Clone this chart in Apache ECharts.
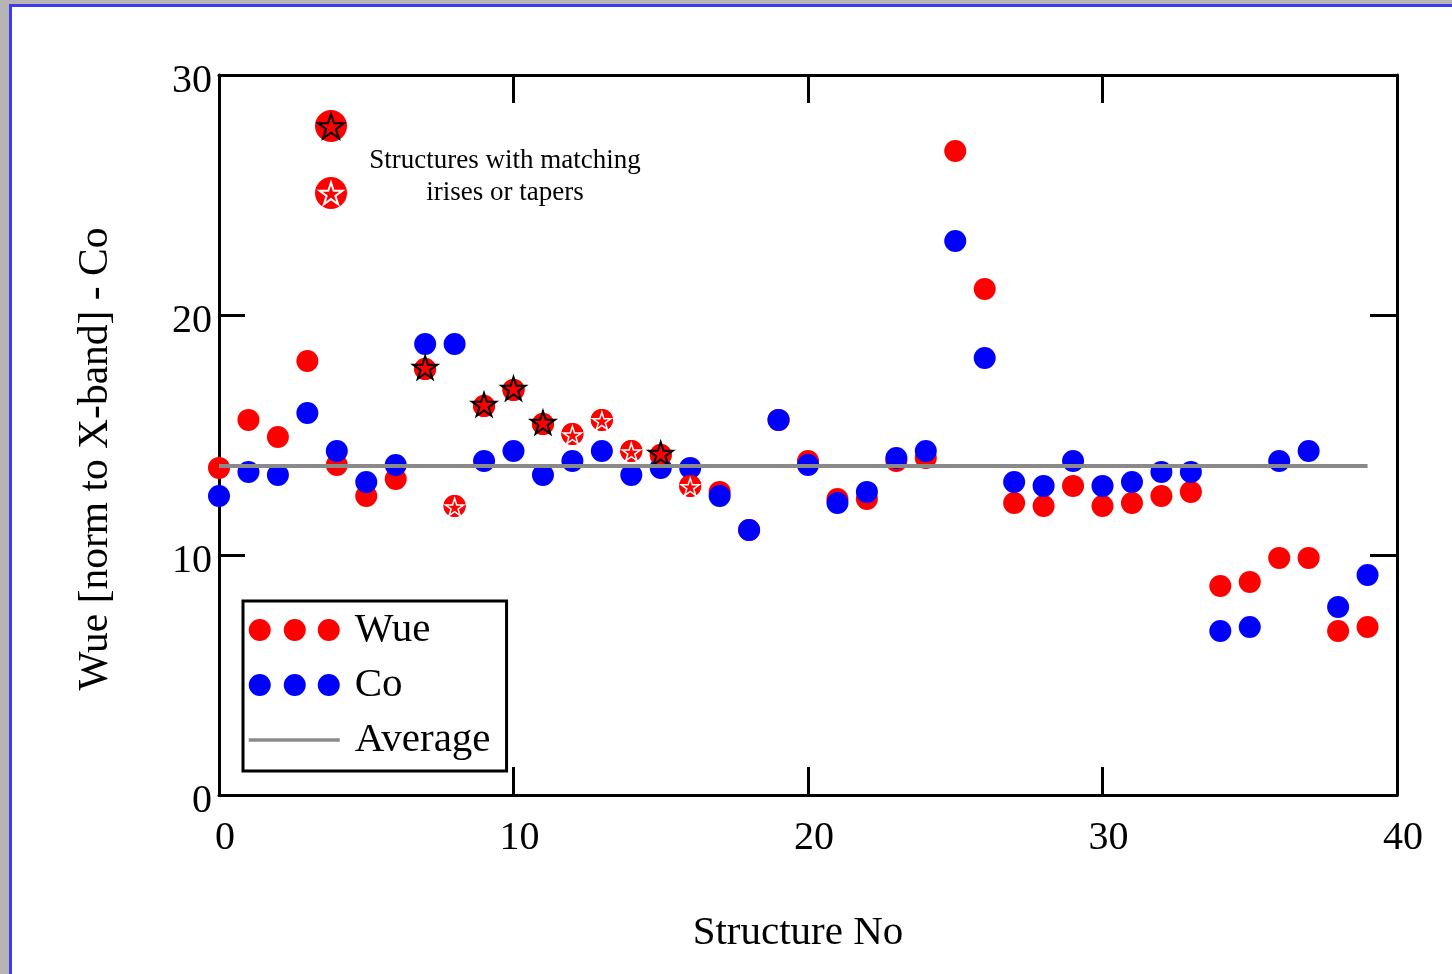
<!DOCTYPE html>
<html>
<head>
<meta charset="utf-8">
<title>Wue / Co per structure</title>
<script src="https://cdn.jsdelivr.net/npm/echarts@6/dist/echarts.min.js"></script>
<style>
  html, body { margin: 0; padding: 0; width: 100%; height: 100%; background: #b7b4b4; overflow: hidden; }
  #panel { position: absolute; left: 9px; top: 4px; right: 0; bottom: 0; background: #fff;
           border-left: 3px solid #3c3cec; border-top: 3px solid #3c3cec; }
  #chart { position: absolute; left: 0; top: 0; width: 1452px; height: 974px; }
</style>
</head>
<body>
<div id="panel"></div>
<div id="chart"></div>
<script>
// Structure numbers 0..39
const structureNo = Array.from({ length: 40 }, (_, i) => i);

// Wue [norm to X-band] per structure
const wueValues = [
  13.63, 15.63, 14.92, 18.08, 13.75, 12.46, 13.17, 17.75, 12.04, 16.21,
  16.88, 15.46, 15.04, 15.63, 14.33, 14.17, 12.88, 12.63, 11.04, 15.63,
  13.92, 12.33, 12.33, 13.92, 14.04, 26.83, 21.08, 12.17, 12.04, 12.88,
  12.04, 12.17, 12.46, 12.63, 8.71, 8.88, 9.88, 9.88, 6.83, 7.00
];

// Co per structure
const coValues = [
  12.46, 13.46, 13.33, 15.92, 14.33, 13.04, 13.75, 18.79, 18.79, 13.92,
  14.33, 13.33, 13.92, 14.33, 13.33, 13.63, 13.63, 12.46, 11.04, 15.63,
  13.75, 12.17, 12.63, 14.04, 14.33, 23.08, 18.21, 13.04, 12.88, 13.92,
  12.88, 13.04, 13.46, 13.46, 6.83, 7.00, 13.92, 14.33, 7.83, 9.17
];

// Structures with matching irises or tapers (two marker styles)
const blackStarStructures = [7, 9, 10, 11, 15];
const whiteStarStructures = [8, 12, 13, 14, 16];

// Overall average level
const averageValue = 13.71;

const xTicks = [0, 10, 20, 30, 40];
const yTicks = [0, 10, 20, 30];

// 5-point star vertices around (cx, cy)
function starPoints(cx, cy, R) {
  const r = R * 0.382, pts = [];
  for (let k = 0; k < 10; k++) {
    const rad = (k % 2 === 0 ? R : r);
    const a = (-90 + 36 * k) * Math.PI / 180;
    pts.push([cx + rad * Math.cos(a), cy + rad * Math.sin(a)]);
  }
  return pts;
}
function starPath(R) {
  return starPoints(R, R, R)
    .map((p, k) => (k === 0 ? 'M' : 'L') + p[0].toFixed(2) + ',' + p[1].toFixed(2))
    .join('') + 'Z';
}
const STAR = 'path://' + starPath(50);
const DOTS3 = 'path://M0,11A11,11,0,1,0,22,11A11,11,0,1,0,0,11Z' +
  'M35,11A11,11,0,1,0,57,11A11,11,0,1,0,35,11Z' +
  'M69,11A11,11,0,1,0,91,11A11,11,0,1,0,69,11Z';

const FONT = '"Liberation Serif", "Times New Roman", serif';
const RED = '#ff0000', BLUE = '#0000ff', GREY = '#8a8a8a';

const pairs = vals => structureNo.map(i => [i, vals[i]]);
const pick = idx => idx.map(i => [i, wueValues[i]]);

const chart = echarts.init(document.getElementById('chart'), null, { renderer: 'canvas' });

const axisLine = { show: true, onZero: false, lineStyle: { color: '#000', width: 3 } };

chart.setOption({
  animation: false,
  backgroundColor: 'transparent',
  grid: { left: 219, right: 55, top: 75, bottom: 179, containLabel: false },
  xAxis: [
    {
      type: 'value', min: xTicks[0], max: xTicks[xTicks.length - 1], interval: 10,
      position: 'bottom',
      name: 'Structure No', nameLocation: 'middle', nameGap: 118,
      nameTextStyle: { fontFamily: FONT, fontSize: 41, color: '#000', padding: [0, 20, 0, 0] },
      axisLine, splitLine: { show: false },
      axisTick: { show: true, inside: true, length: 28, lineStyle: { color: '#000', width: 3 } },
      axisLabel: { fontFamily: FONT, fontSize: 40, color: '#000', margin: 23, padding: [0, 0, 0, 12] }
    },
    {
      type: 'value', min: xTicks[0], max: xTicks[xTicks.length - 1], interval: 10,
      position: 'top',
      axisLine, splitLine: { show: false },
      axisTick: { show: true, inside: true, length: 28, lineStyle: { color: '#000', width: 3 } },
      axisLabel: { show: false }
    }
  ],
  yAxis: [
    {
      type: 'value', min: yTicks[0], max: yTicks[yTicks.length - 1], interval: 10,
      position: 'left',
      name: 'Wue [norm to X-band] - Co', nameLocation: 'middle', nameGap: 102,
      nameTextStyle: { fontFamily: FONT, fontSize: 41.5, color: '#000', padding: [0, 48, 0, 0] },
      axisLine, splitLine: { show: false },
      axisTick: { show: true, inside: true, length: 26, lineStyle: { color: '#000', width: 3 } },
      axisLabel: { fontFamily: FONT, fontSize: 40, color: '#000', margin: 7,
                   verticalAlign: 'top', lineHeight: 12 }
    },
    {
      type: 'value', min: yTicks[0], max: yTicks[yTicks.length - 1], interval: 10,
      position: 'right',
      axisLine, splitLine: { show: false },
      axisTick: { show: true, inside: true, length: 27, lineStyle: { color: '#000', width: 3 } },
      axisLabel: { show: false }
    }
  ],
  legend: {
    orient: 'vertical', left: 243, top: 601,
    backgroundColor: '#fff',
    borderColor: '#000', borderWidth: 3, borderRadius: 0,
    padding: [7, 16, 9, 4],
    itemWidth: 91, itemHeight: 22, itemGap: 11,
    textStyle: { fontFamily: FONT, fontSize: 41, color: '#000', lineHeight: 44, padding: [0, 0, 0, 10] },
    data: [
      { name: 'Wue', icon: DOTS3 },
      { name: 'Co', icon: DOTS3 },
      { name: 'Average', itemStyle: { opacity: 0 }, lineStyle: { color: GREY, width: 3.5 } }
    ]
  },
  graphic: [
    // key for marked structures
    { type: 'circle', shape: { cx: 331, cy: 126, r: 16 }, style: { fill: RED }, z: 10 },
    { type: 'polygon', shape: { points: starPoints(331, 127.5, 13.5) },
      style: { fill: RED, stroke: '#000', lineWidth: 2 }, z: 11 },
    { type: 'circle', shape: { cx: 331, cy: 193, r: 16 }, style: { fill: RED }, z: 10 },
    { type: 'polygon', shape: { points: starPoints(331, 194.5, 12) },
      style: { fill: RED, stroke: '#fff', lineWidth: 2 }, z: 11 },
    { type: 'text', x: 505, y: 161, z: 10,
      style: { text: 'Structures with matching', fontFamily: FONT, fontSize: 27, fill: '#000',
               align: 'center', verticalAlign: 'middle' } },
    { type: 'text', x: 505, y: 193, z: 10,
      style: { text: 'irises or tapers', fontFamily: FONT, fontSize: 27, fill: '#000',
               align: 'center', verticalAlign: 'middle' } }
  ],
  series: [
    {
      name: 'Wue', type: 'scatter', data: pairs(wueValues), z: 2,
      symbol: 'circle', symbolSize: 22, itemStyle: { color: RED, opacity: 1 }
    },
    {
      name: 'Co', type: 'scatter', data: pairs(coValues), z: 3,
      symbol: 'circle', symbolSize: 22, itemStyle: { color: BLUE, opacity: 1 }
    },
    {
      name: 'WueMarkedDots', type: 'scatter', z: 4,
      data: pick(blackStarStructures.concat(whiteStarStructures)),
      symbol: 'circle', symbolSize: 22, itemStyle: { color: RED, opacity: 1 }
    },
    {
      name: 'WueBlackStar', type: 'scatter', z: 5, data: pick(blackStarStructures),
      symbol: STAR, symbolKeepAspect: true, symbolSize: 24, symbolOffset: [0, -1.5],
      itemStyle: { color: RED, opacity: 1, borderColor: '#000', borderWidth: 2 }
    },
    {
      name: 'WueWhiteStar', type: 'scatter', z: 5, data: pick(whiteStarStructures),
      symbol: STAR, symbolKeepAspect: true, symbolSize: 18, symbolOffset: [0, 1],
      itemStyle: { color: RED, opacity: 1, borderColor: '#fff', borderWidth: 1.5 }
    },
    {
      name: 'Average', type: 'line', z: 6,
      data: [[structureNo[0], averageValue], [structureNo[structureNo.length - 1], averageValue]],
      symbol: 'none', lineStyle: { color: GREY, width: 4 }, itemStyle: { color: GREY }
    }
  ]
});
</script>
</body>
</html>
